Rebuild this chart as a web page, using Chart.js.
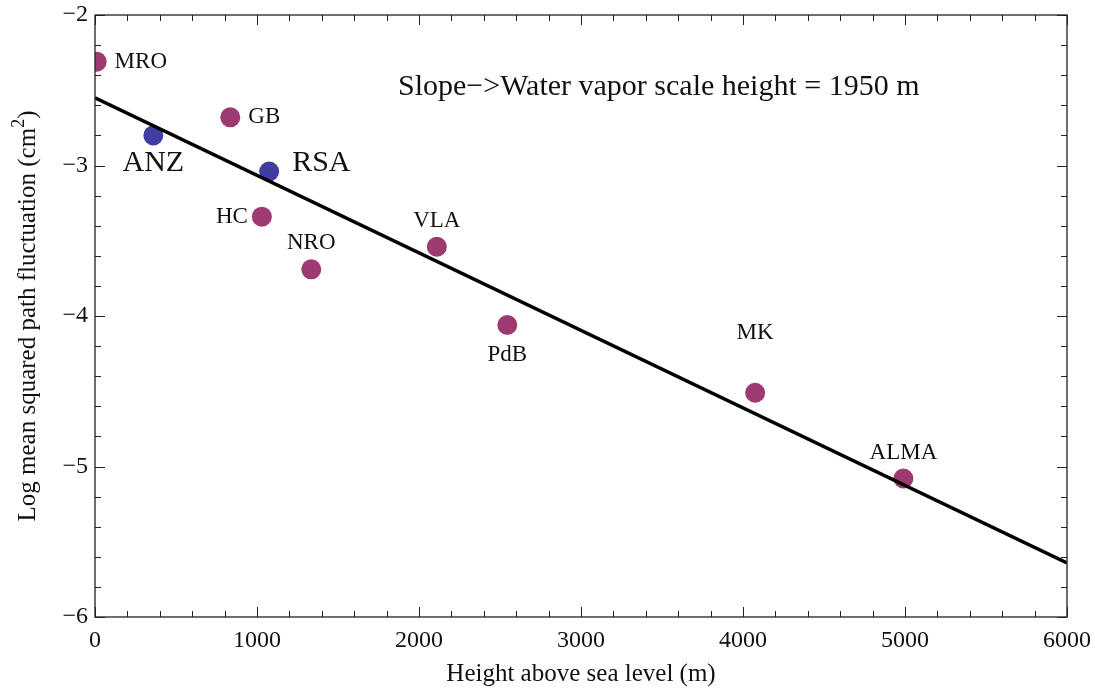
<!DOCTYPE html>
<html>
<head>
<meta charset="utf-8">
<script src="https://cdn.jsdelivr.net/npm/chart.js@4"></script>
<style>
html,body{margin:0;padding:0;background:#fff;}
#wrap{width:1095px;height:694px;position:relative;}
</style>
</head>
<body>
<div id="wrap"><canvas id="c" width="1095" height="694"></canvas></div>
<script>
// ---- data ----
const siteNames = ["MRO","ANZ","GB","RSA","HC","NRO","VLA","PdB","MK","ALMA"];
const siteHeights = [10, 360, 835, 1075, 1030, 1335, 2110, 2545, 4075, 4990];
const siteLogPath = [-2.31, -2.80, -2.68, -3.04, -3.34, -3.69, -3.54, -4.06, -4.51, -5.08];
const siteGroup = ["m","b","m","b","m","m","m","m","m","m"];
const fitX = [0, 6000];
const fitY = [-2.55, -5.64];
const xTickValues = [0,1000,2000,3000,4000,5000,6000];
const yTickValues = [-6,-5,-4,-3,-2];

// ---- styling (not data) ----
const colMag = "#9d3a72";
const colBlue = "#3e3ea2";
const labelPlace = {
  MRO:{dir:"right",size:23},
  ANZ:{dir:"belowBig",size:30},
  GB:{dir:"right",size:23},
  RSA:{dir:"rightBig",size:30},
  HC:{dir:"left",size:23},
  NRO:{dir:"above",size:23},
  VLA:{dir:"above",size:23},
  PdB:{dir:"below",size:23},
  MK:{dir:"aboveFar",size:23},
  ALMA:{dir:"above",size:23}
};
const SERIF = "'Liberation Serif','DejaVu Serif',serif";

const framePlugin = {
  id:"frame",
  afterDatasetsDraw(chart){
    const ctx = chart.ctx, a = chart.chartArea;
    const xs = chart.scales.x, ys = chart.scales.y;
    ctx.save();
    ctx.strokeStyle = "#222";
    ctx.lineWidth = 1.3;
    ctx.strokeRect(a.left, a.top, a.right - a.left, a.bottom - a.top);
    ctx.lineWidth = 1;
    ctx.beginPath();
    for (let v = 0; v <= 6000; v += 200) {
      const p = Math.round(xs.getPixelForValue(v)) + 0.5;
      const L = (v % 1000 === 0) ? 10 : 6;
      ctx.moveTo(p, a.bottom); ctx.lineTo(p, a.bottom - L);
      ctx.moveTo(p, a.top); ctx.lineTo(p, a.top + L);
    }
    for (let i = 0; i <= 20; i++) {
      const v = -6 + i * 0.2;
      const p = Math.round(ys.getPixelForValue(v)) + 0.5;
      const L = (i % 5 === 0) ? 10 : 6;
      ctx.moveTo(a.left, p); ctx.lineTo(a.left + L, p);
      ctx.moveTo(a.right, p); ctx.lineTo(a.right - L, p);
    }
    ctx.stroke();

    // tick labels
    ctx.fillStyle = "#111";
    ctx.font = "24px " + SERIF;
    ctx.textBaseline = "middle";
    ctx.textAlign = "center";
    xTickValues.forEach(v => ctx.fillText(String(v), xs.getPixelForValue(v), a.bottom + 24));
    ctx.textAlign = "right";
    yTickValues.forEach(v => ctx.fillText(String(v).replace("-", "\u2212"), a.left - 7, ys.getPixelForValue(v)));

    // point labels
    const meta = chart.getDatasetMeta(1);
    meta.data.forEach((el, i) => {
      const name = siteNames[i];
      const pl = labelPlace[name];
      ctx.font = pl.size + "px " + SERIF;
      let x = el.x, y = el.y;
      ctx.textBaseline = "middle";
      if (pl.dir === "right") { ctx.textAlign = "left"; x += 18; }
      else if (pl.dir === "rightBig") { ctx.textAlign = "left"; x += 23; y -= 8; }
      else if (pl.dir === "left") { ctx.textAlign = "right"; x -= 14; }
      else if (pl.dir === "above") { ctx.textAlign = "center"; y -= 26; }
      else if (pl.dir === "aboveFar") { ctx.textAlign = "center"; y -= 60; }
      else if (pl.dir === "below") { ctx.textAlign = "center"; y += 30; }
      else if (pl.dir === "belowBig") { ctx.textAlign = "center"; y += 28; }
      ctx.fillText(name, x, y);
    });

    // annotation
    ctx.font = "30px " + SERIF;
    ctx.textAlign = "left";
    ctx.textBaseline = "middle";
    ctx.fillText("Slope\u2212>Water vapor scale height = 1950 m", 398, 87);

    // axis titles
    ctx.font = "25px " + SERIF;
    ctx.textAlign = "center";
    ctx.fillText("Height above sea level (m)", (a.left + a.right) / 2, 674);

    ctx.translate(28, (a.top + a.bottom) / 2);
    ctx.rotate(-Math.PI / 2);
    const main = "Log mean squared path fluctuation (cm";
    const F1 = "25px " + SERIF, F2 = "18px " + SERIF;
    ctx.font = F1;
    const w1 = ctx.measureText(main).width;
    const w3 = ctx.measureText(")").width;
    ctx.font = F2;
    const w2 = ctx.measureText("2").width;
    const total = w1 + w2 + w3;
    let sx = -total / 2;
    ctx.textAlign = "left";
    ctx.font = F1;
    ctx.fillText(main, sx, 0);
    ctx.font = F2;
    ctx.fillText("2", sx + w1, -9);
    ctx.font = F1;
    ctx.fillText(")", sx + w1 + w2, 0);
    ctx.restore();
  }
};

const pointData = siteHeights.map((h, i) => ({x: h, y: siteLogPath[i]}));
const fitData = fitX.map((x, i) => ({x: x, y: fitY[i]}));

new Chart(document.getElementById("c"), {
  type: "scatter",
  data: {
    datasets: [
      {type:"line", data: fitData, borderColor:"#000", borderWidth:3.5, pointRadius:0, fill:false, order:0},
      {data: pointData, backgroundColor: siteGroup.map(g => g === "b" ? colBlue : colMag),
       borderWidth:0, pointRadius:10, pointHoverRadius:10, order:1}
    ]
  },
  options: {
    responsive:false,
    animation:false,
    events:[],
    layout:{padding:{top:15, right:28, left:0, bottom:0}},
    plugins:{legend:{display:false}, tooltip:{enabled:false}},
    scales:{
      x:{type:"linear", min:0, max:6000,
         afterBuildTicks(s){ s.ticks = xTickValues.map(v => ({value:v})); },
         afterFit(s){ s.height = 77; s.paddingLeft = 0; s.paddingRight = 0; },
         grid:{display:false, drawTicks:false}, border:{display:false},
         ticks:{display:false}},
      y:{type:"linear", min:-6, max:-2,
         afterBuildTicks(s){ s.ticks = yTickValues.map(v => ({value:v})); },
         afterFit(s){ s.width = 95; s.paddingTop = 0; s.paddingBottom = 0; },
         grid:{display:false, drawTicks:false}, border:{display:false},
         ticks:{display:false}}
    }
  },
  plugins:[framePlugin]
});
</script>
</body>
</html>
